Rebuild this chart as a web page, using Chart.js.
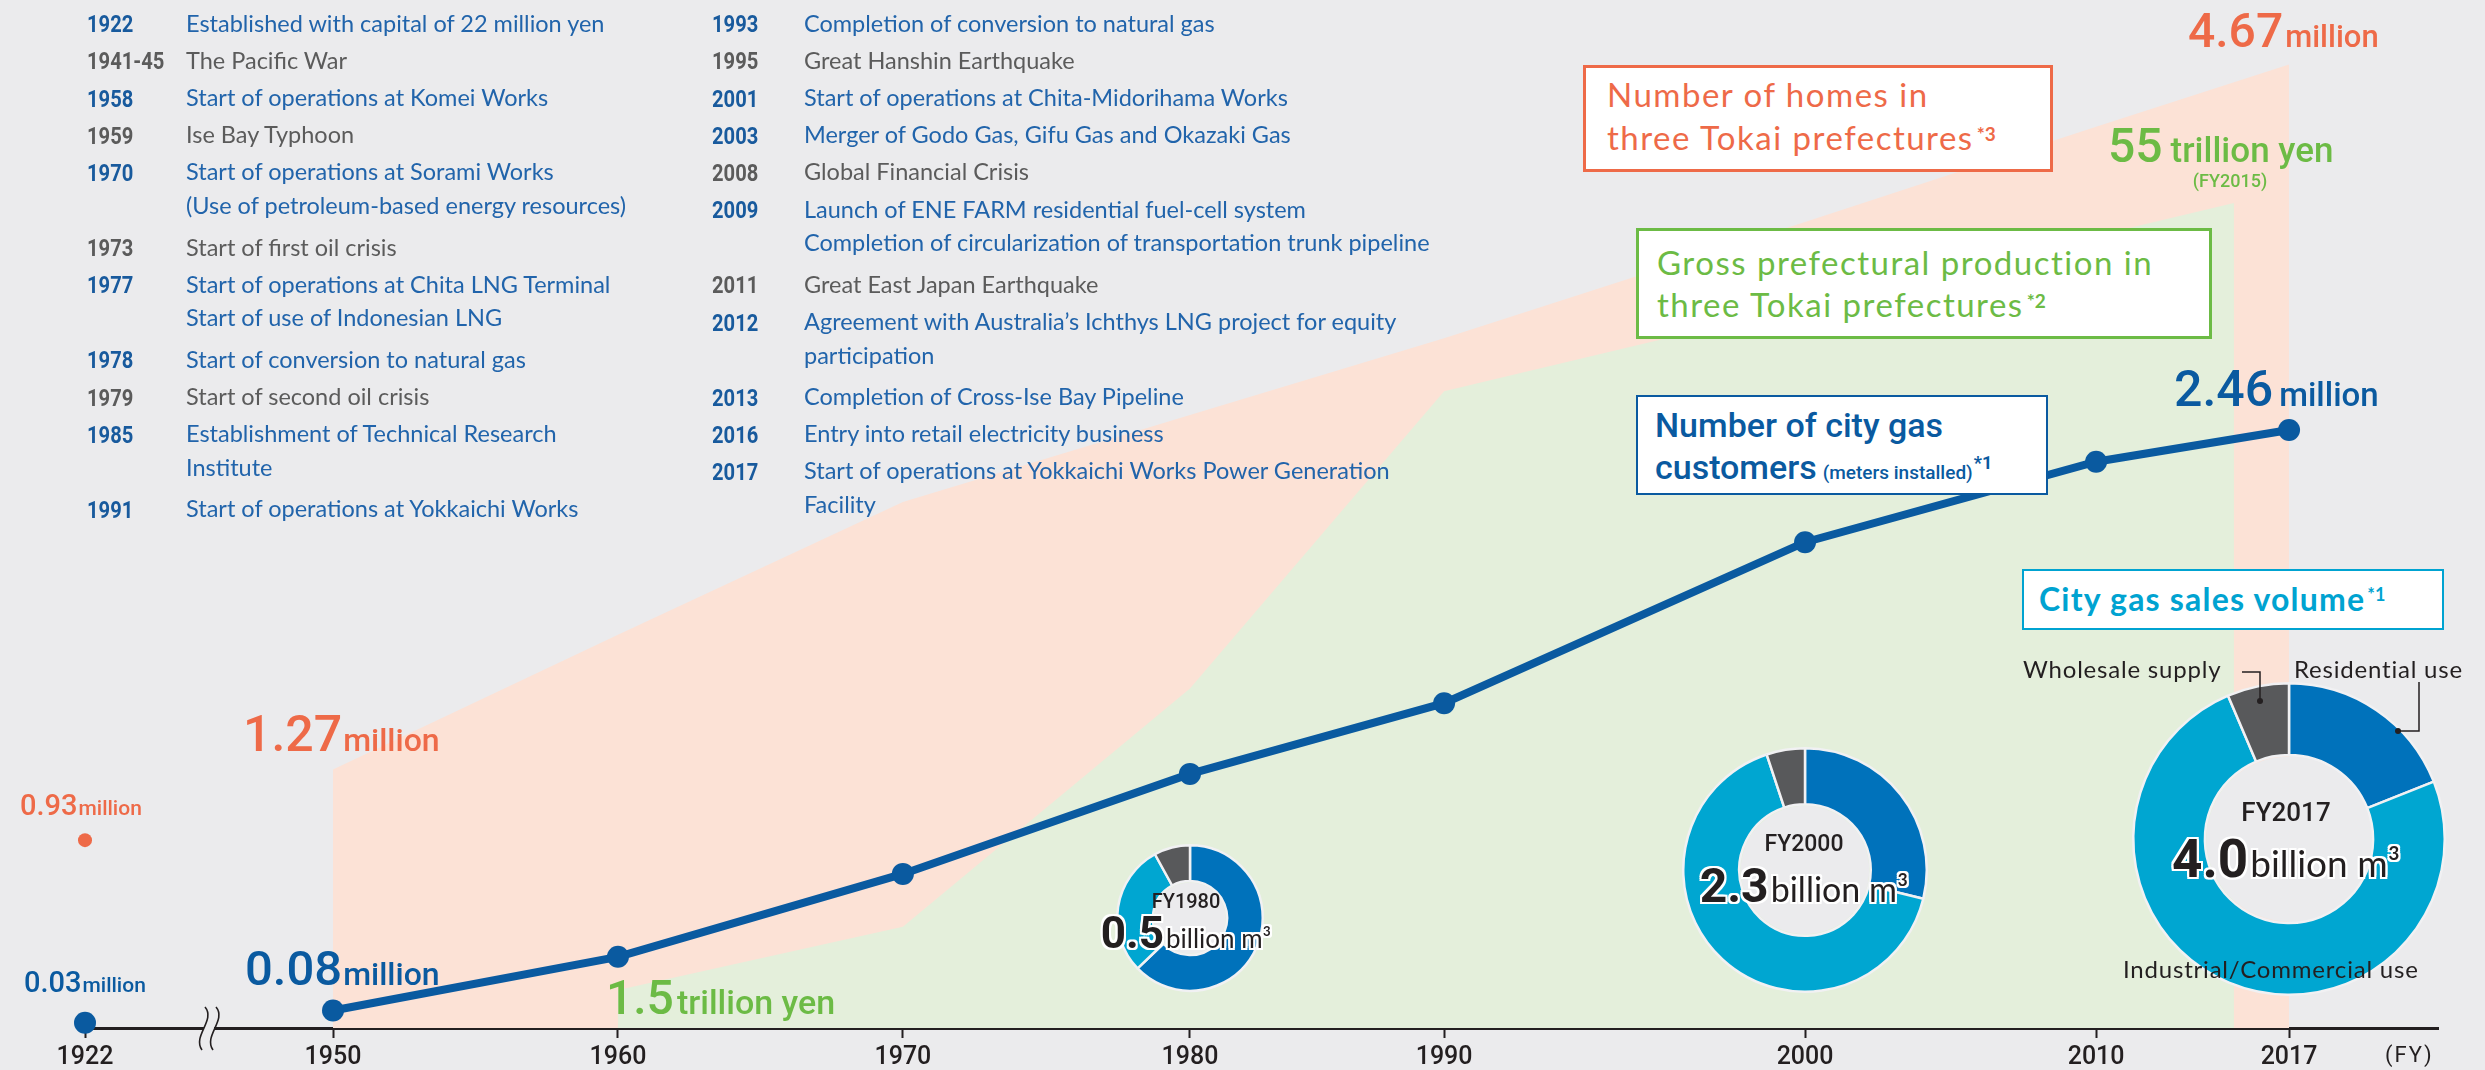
<!DOCTYPE html>
<html lang="en">
<head>
<meta charset="utf-8">
<title>Growth with the region</title>
<script src="https://cdn.jsdelivr.net/npm/chart.js@4.4.1/dist/chart.umd.min.js"></script>
<style>
  html, body { margin: 0; padding: 0; background: #ebebed; }
  #stage { position: relative; width: 2485px; height: 1070px; overflow: hidden; background: #ebebed; }
  #stage canvas { position: absolute; }
  .t { position: absolute; display: flex; align-items: baseline; white-space: nowrap; line-height: 1; }
  .box { position: absolute; background: #fff; box-sizing: border-box; }
  .halo { text-shadow: -2px -2px 0 #fff, 2px -2px 0 #fff, -2px 2px 0 #fff, 2px 2px 0 #fff,
                       0 -2px 0 #fff, 0 2px 0 #fff, -2px 0 0 #fff, 2px 0 0 #fff; }
</style>
</head>
<body>
<div id="stage">
  <canvas id="main" width="2485" height="1070" style="left:0;top:0"></canvas>
</div>
<script>
// ============ DATA ============
const TICK_YEARS = [1922, 1950, 1960, 1970, 1980, 1990, 2000, 2010, 2017];

// number of city gas customers (meters installed), million
const CUST_YEARS = [1950, 1960, 1970, 1980, 1990, 2000, 2010, 2017];
const CUSTOMERS  = [0.08, 0.30, 0.64, 1.05, 1.34, 2.00, 2.33, 2.46];
const CUST_1922  = 0.03;

// number of homes in three Tokai prefectures, million
const HOME_YEARS = [1950, 1960, 1970, 1980, 1990, 2000, 2010, 2017];
const HOMES      = [1.27, 1.92, 2.56, 2.98, 3.35, 3.91, 4.37, 4.67];
const HOMES_1922 = 0.93;

// gross prefectural production in three Tokai prefectures, trillion yen
const GDP_YEARS = [1960, 1970, 1980, 1990, 2015];
const GDP       = [1.5, 5.8, 22.0, 42.2, 55];

// city gas sales volume mix, % of total
const SALES_LABELS = ['Residential use', 'Industrial/Commercial use', 'Wholesale supply'];
const SALES_1980 = [62.8, 29.2, 8.0];
const SALES_2000 = [28.8, 66.1, 5.1];
const SALES_2017 = [19.0, 74.6, 6.4];
const SALES_TOTALS = ['0.5', '2.3', '4.0'];   // billion m3 : FY1980, FY2000, FY2017

// timeline  [year, text, tone]  (tone b = company event, g = world event)
const EVENTS_LEFT = [
  ['1922', 'Established with capital of 22 million yen', 'b'],
  ['1941-45', 'The Pacific War', 'g'],
  ['1958', 'Start of operations at Komei Works', 'b'],
  ['1959', 'Ise Bay Typhoon', 'g'],
  ['1970', 'Start of operations at Sorami Works', 'b'],
  ['', '(Use of petroleum-based energy resources)', 'b'],
  ['1973', 'Start of first oil crisis', 'g'],
  ['1977', 'Start of operations at Chita LNG Terminal', 'b'],
  ['', 'Start of use of Indonesian LNG', 'b'],
  ['1978', 'Start of conversion to natural gas', 'b'],
  ['1979', 'Start of second oil crisis', 'g'],
  ['1985', 'Establishment of Technical Research', 'b'],
  ['', 'Institute', 'b'],
  ['1991', 'Start of operations at Yokkaichi Works', 'b'],
];
const EVENTS_RIGHT = [
  ['1993', 'Completion of conversion to natural gas', 'b'],
  ['1995', 'Great Hanshin Earthquake', 'g'],
  ['2001', 'Start of operations at Chita-Midorihama Works', 'b'],
  ['2003', 'Merger of Godo Gas, Gifu Gas and Okazaki Gas', 'b'],
  ['2008', 'Global Financial Crisis', 'g'],
  ['2009', 'Launch of ENE FARM residential fuel-cell system', 'b'],
  ['', 'Completion of circularization of transportation trunk pipeline', 'b'],
  ['2011', 'Great East Japan Earthquake', 'g'],
  ['2012', 'Agreement with Australia\u2019s Ichthys LNG project for equity', 'b'],
  ['', 'participation', 'b'],
  ['2013', 'Completion of Cross-Ise Bay Pipeline', 'b'],
  ['2016', 'Entry into retail electricity business', 'b'],
  ['2017', 'Start of operations at Yokkaichi Works Power Generation', 'b'],
  ['', 'Facility', 'b'],
];

// ============ LOOK ============
const C = {
  bg: '#ebebed', ink: '#231f20',
  orange: '#ee6a48', orangeFill: '#fce2d6',
  green: '#6cbb45', greenFill: '#e4efdb',
  blue: '#0a5aa0', cyan: '#00a3d1',
  tlBlue: '#2164ab', tlYear: '#185a9d', tlGray: '#5b5b5b',
  res: '#0072bb', ind: '#00a6d1', whs: '#58595b',
};
const FONTS = {
  num: "Roboto, 'Liberation Sans', sans-serif",
  txt: "Lato, 'Noto Sans', sans-serif",
};
const ASC = { num: 0.842, txt: 0.887 };

// the year axis is not evenly spaced in the original, and 1922 sits behind a break
const X_STOPS = [[1922, 0], [1950, 0.1054], [1960, 0.2265], [1970, 0.3476], [1980, 0.4696],
                 [1990, 0.5776], [2000, 0.7310], [2010, 0.8547], [2017, 0.9367], [2026, 1]];
const BREAK_YEAR = 1936;

const $ = (id) => document.getElementById(id);
const stage = $('stage');

function interp(v, from, to) {
  for (let i = 1; i < X_STOPS.length; i++) {
    const a = X_STOPS[i - 1], b = X_STOPS[i];
    if (v <= b[from] || i === X_STOPS.length - 1) {
      return a[to] + (v - a[from]) / (b[from] - a[from]) * (b[to] - a[to]);
    }
  }
}

class PiecewiseScale extends Chart.LinearScale {
  getPixelForValue(value) {
    if (value == null || isNaN(value)) return NaN;
    return this.getPixelForDecimal(interp(value, 0, 1));
  }
  getValueForPixel(pixel) {
    return interp(this.getDecimalForPixel(pixel), 1, 0);
  }
}
PiecewiseScale.id = 'piecewise';
PiecewiseScale.defaults = Chart.LinearScale.defaults;
Chart.register(PiecewiseScale);

// ============ MAIN CHART ============
const pts = (xs, ys) => xs.map((x, i) => ({ x, y: ys[i] }));
const NONE = 'rgba(0,0,0,0)';

const axisBreak = {
  id: 'axisBreak',
  afterDraw(chart) {
    const x = chart.scales.x.getPixelForValue(BREAK_YEAR);
    const y = chart.chartArea.bottom;
    const ctx = chart.ctx;
    ctx.save();
    ctx.fillStyle = C.bg;
    ctx.fillRect(x - 5, y - 3, 10, 6);
    ctx.strokeStyle = C.ink;
    ctx.lineWidth = 1.6;
    ctx.beginPath();
    [x - 6, x + 5].forEach(x0 => {
      ctx.moveTo(x0 + 2, y - 21);
      ctx.bezierCurveTo(x0 + 13, y - 8, x0 - 11, y + 8, x0 - 1, y + 22);
    });
    ctx.stroke();
    ctx.restore();
  }
};

const main = new Chart($('main'), {
  type: 'line',
  data: {
    datasets: [
      { label: 'Number of city gas customers', data: pts(CUST_YEARS, CUSTOMERS), yAxisID: 'yCust',
        borderColor: C.blue, borderWidth: 8, pointRadius: 11, pointBackgroundColor: C.blue,
        pointBorderWidth: 0, fill: false, clip: false, order: 1 },
      { label: 'Customers 1922', data: [{ x: 1922, y: CUST_1922 }], yAxisID: 'yCust', showLine: false,
        pointRadius: 11, pointBackgroundColor: C.blue, pointBorderWidth: 0, clip: false, order: 1 },
      { label: 'Homes 1922', data: [{ x: 1922, y: HOMES_1922 }], yAxisID: 'yHomes', showLine: false,
        pointRadius: 7, pointBackgroundColor: C.orange, pointBorderWidth: 0, clip: false, order: 1 },
      { label: 'Gross prefectural production', data: pts(GDP_YEARS, GDP), yAxisID: 'yGdp',
        borderColor: NONE, borderWidth: 0, pointRadius: 0, fill: 'start', backgroundColor: C.greenFill, order: 2 },
      { label: 'Number of homes', data: pts(HOME_YEARS, HOMES), yAxisID: 'yHomes',
        borderColor: NONE, borderWidth: 0, pointRadius: 0, fill: 'start', backgroundColor: C.orangeFill, order: 3 },
    ]
  },
  options: {
    responsive: false,
    animation: false,
    devicePixelRatio: 1,
    events: [],
    layout: { padding: { left: 85, right: 47, top: 0, bottom: 0 }, autoPadding: false },
    plugins: { legend: { display: false }, tooltip: { enabled: false } },
    scales: {
      x: {
        type: 'piecewise', min: 1922, max: 2026,
        afterBuildTicks: (s) => { s.ticks = TICK_YEARS.map(v => ({ value: v })); },
        afterFit: (s) => { s.height = 42; },
        border: { display: true, color: C.ink, width: 3 },
        grid: { display: true, drawOnChartArea: false, drawTicks: true, tickLength: 10, tickWidth: 2, tickColor: C.ink },
        ticks: { autoSkip: false, maxRotation: 0, padding: 5, color: C.ink,
                 font: { family: FONTS.num, size: 25, weight: '500' }, callback: (v) => String(v) },
      },
      yCust:  { display: false, min: 0.0082, max: 4.223 },
      yHomes: { display: false, min: 0.0241, max: 4.981 },
      yGdp:   { display: false, min: -1.088, max: 68.80 },
    }
  },
  plugins: [axisBreak]
});

// ============ DOUGHNUTS ============
const hole = {
  id: 'hole',
  afterDatasetsDraw(chart) {
    const a = chart.getDatasetMeta(0).data[0];
    const ctx = chart.ctx;
    ctx.save();
    ctx.beginPath();
    ctx.arc(a.x, a.y, a.innerRadius - 1.5, 0, Math.PI * 2);
    ctx.fillStyle = C.bg;
    ctx.fill();
    ctx.restore();
  }
};

const leaderLines = (lines, ox, oy) => ({
  id: 'leaders',
  afterDraw(chart) {
    const ctx = chart.ctx;
    ctx.save();
    ctx.strokeStyle = C.ink;
    ctx.fillStyle = C.ink;
    ctx.lineWidth = 1.5;
    lines.forEach(pl => {
      ctx.beginPath();
      pl.forEach(([x, y], i) => i ? ctx.lineTo(x - ox, y - oy) : ctx.moveTo(x - ox, y - oy));
      ctx.stroke();
      const [ex, ey] = pl[pl.length - 1];
      ctx.beginPath();
      ctx.arc(ex - ox, ey - oy, 3, 0, Math.PI * 2);
      ctx.fill();
    });
    ctx.restore();
  }
});

function donut(values, cx, cy, r, cutout, padX = 2, padY = 2, lines = null) {
  const cv = document.createElement('canvas');
  const w = 2 * r + 2 * padX, h = 2 * r + 2 * padY;
  cv.width = w; cv.height = h;
  cv.style.left = (cx - w / 2) + 'px';
  cv.style.top = (cy - h / 2) + 'px';
  stage.appendChild(cv);
  const plugins = [hole];
  if (lines) plugins.push(leaderLines(lines, cx - w / 2, cy - h / 2));
  return new Chart(cv, {
    type: 'doughnut',
    data: { labels: SALES_LABELS, datasets: [{ data: values, backgroundColor: [C.res, C.ind, C.whs],
            borderColor: '#f1f1f3', borderWidth: 2.5 }] },
    options: {
      responsive: false, animation: false, devicePixelRatio: 1, events: [],
      cutout: cutout + '%',
      layout: { padding: { left: padX, right: padX, top: padY, bottom: padY }, autoPadding: false },
      plugins: { legend: { display: false }, tooltip: { enabled: false } }
    },
    plugins
  });
}

donut(SALES_1980, 1190, 918, 74, 51);
donut(SALES_2000, 1805, 870, 123, 54);
donut(SALES_2017, 2289, 839, 157, 54, 26, 42, [
  [[2242, 672], [2260, 672], [2260, 701]],
  [[2419, 682], [2419, 731], [2398, 731]],
]);

// ============ TEXT ============
function txt(x, base, parts, align, sx) {
  const el = document.createElement('div');
  el.className = 't';
  let asc = 0;
  for (const p of parts) {
    const s = document.createElement('span');
    s.textContent = p.t;
    const f = p.f || 'txt';
    s.style.font = `${p.w || 400} ${p.s}px/1 ${FONTS[f]}`;
    s.style.color = p.c || C.ink;
    if (p.ls != null) s.style.letterSpacing = p.ls + 'px';
    if (p.ml) s.style.marginLeft = p.ml + 'px';
    if (p.cls) s.className = p.cls;
    if (p.up) { s.style.position = 'relative'; s.style.top = -p.up + 'px'; }
    else asc = Math.max(asc, ASC[f] * p.s);
    el.appendChild(s);
  }
  el.style.left = x + 'px';
  el.style.top = (base - asc) + 'px';
  const tf = [];
  if (align === 'center') tf.push('translateX(-50%)');
  if (sx) { tf.push(`scaleX(${sx})`); el.style.transformOrigin = 'left center'; }
  if (tf.length) el.style.transform = tf.join(' ');
  stage.appendChild(el);
  return el;
}

function box(x, y, w, h, color, bw) {
  const b = document.createElement('div');
  b.className = 'box';
  Object.assign(b.style, { left: x + 'px', top: y + 'px', width: w + 'px', height: h + 'px',
                           border: `${bw}px solid ${color}` });
  stage.appendChild(b);
}

function timeline(rows, xYear, xText) {
  let y = 32.5, prevCont = false;
  rows.forEach(([year, text, tone], i) => {
    if (i > 0) y += year ? (prevCont ? 41.5 : 37.2) : 33.6;
    prevCont = !year;
    const blue = tone === 'b';
    if (year) txt(xYear, y, [{ t: year, f: 'num', s: 24, w: 700, c: blue ? C.tlYear : C.tlGray }], null, 0.84);
    txt(xText, y, [{ t: text, s: 23.5, c: blue ? C.tlBlue : C.tlGray }]);
  });
}
timeline(EVENTS_LEFT, 87, 186);
timeline(EVENTS_RIGHT, 712, 804);

// legend boxes
box(1583, 65, 470, 107, C.orange, 3);
txt(1607, 107, [{ t: 'Number of homes in', s: 33, ls: 1.5, c: C.orange }]);
txt(1607, 150, [{ t: 'three Tokai prefectures', s: 33, ls: 1.5, c: C.orange },
                { t: '*3', s: 19, w: 700, c: C.orange, up: 9, ml: 3 }]);

box(1636, 228, 576, 111, C.green, 3);
txt(1657, 275, [{ t: 'Gross prefectural production in', s: 33, ls: 1.5, c: C.green }]);
txt(1657, 317, [{ t: 'three Tokai prefectures', s: 33, ls: 1.5, c: C.green },
                { t: '*2', s: 19, w: 700, c: C.green, up: 9, ml: 3 }]);

box(1636, 395, 412, 100, C.blue, 2.5);
txt(1655, 437, [{ t: 'Number of city gas', f: 'num', s: 34, w: 500, c: C.blue }]);
txt(1655, 479, [{ t: 'customers', f: 'num', s: 34, w: 500, c: C.blue },
                { t: '(meters installed)', f: 'num', s: 19, w: 500, c: C.blue, ml: 6 },
                { t: '*1', f: 'num', s: 18, w: 700, c: C.blue, up: 10, ml: 1 }]);

box(2022, 569, 422, 61, C.cyan, 2.5);
txt(2039, 611, [{ t: 'City gas sales volume', s: 32, ls: 1.2, w: 700, c: C.cyan },
                { t: '*1', s: 18, w: 700, c: C.cyan, up: 10, ml: 2 }]);

// value call-outs
const N = (t, s, c, ml) => ({ t, f: 'num', s, w: 500, c, ml });
txt(2188, 47, [N('4.67', 48, C.orange), N('million', 31, C.orange, 2)]);
txt(2108, 162, [N('55', 48, C.green), N('trillion yen', 35, C.green, 8)]);
txt(2230, 187, [N('(FY2015)', 18, C.green)], 'center');
txt(2174, 406, [N('2.46', 50, C.blue), N('million', 33, C.blue, 6)]);
txt(243, 751, [N('1.27', 50, C.orange), N('million', 32, C.orange, 1)]);
txt(606, 1014, [N('1.5', 48, C.green), N('trillion yen', 34, C.green, 3)]);
txt(245, 985, [N('0.08', 49, C.blue), N('million', 32, C.blue, 1)]);
txt(24, 992, [N('0.03', 29, C.blue), N('million', 21, C.blue, 1)]);
{
  // the 1922 homes label sits just above its dot
  const dotY = main.scales.yHomes.getPixelForValue(HOMES_1922);
  txt(20, dotY - 25, [N('0.93', 29, C.orange), N('million', 21, C.orange, 1)]);
}

// doughnut texts
txt(2023, 678, [{ t: 'Wholesale supply', s: 24, ls: 0.8 }]);
txt(2294, 678, [{ t: 'Residential use', s: 24, ls: 0.8 }]);
txt(2123, 978, [{ t: 'Industrial/Commercial use', s: 24, ls: 0.8 }]);

const centerText = (cx, fyBase, numBase, fy, total, fs, ns, us) => {
  txt(cx, fyBase, [{ t: 'FY' + fy, f: 'num', s: fs, w: 500 }], 'center');
  txt(cx, numBase, [{ t: total, f: 'num', s: ns, w: 700, cls: 'halo' },
                    { t: 'billion m\u00b3', s: us, w: 400, cls: 'halo', ml: 2 }], 'center');
};
centerText(1186, 908, 948, 1980, SALES_TOTALS[0], 20, 44, 26);
centerText(1804, 851, 902, 2000, SALES_TOTALS[1], 23, 48, 34);
centerText(2286, 821, 878, 2017, SALES_TOTALS[2], 26, 53, 37);

txt(2385, 1063, [{ t: '(FY)', f: 'num', s: 22, ls: 2 }]);
</script>
</body>
</html>
